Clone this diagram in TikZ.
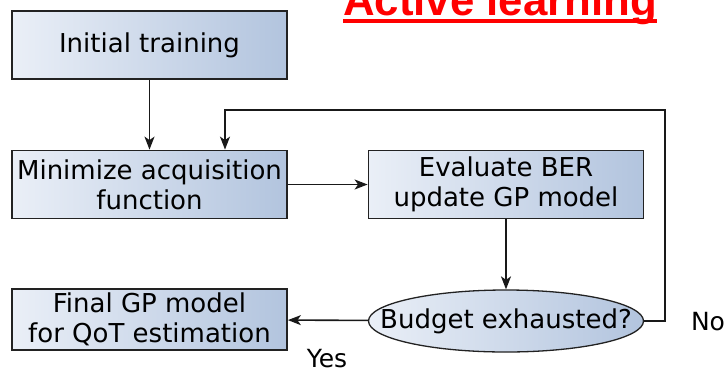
\documentclass[tikz,border=0pt]{standalone}
\usepackage{fontspec}
\setmainfont{DejaVu Sans}
\newfontfamily\titlefont{Liberation Sans}[BoldFont={* Bold}]
\usetikzlibrary{arrows.meta,shapes.geometric}

\definecolor{boxleft}{HTML}{EAEFF7}
\definecolor{boxright}{HTML}{B2C4DE}
\definecolor{boxedge}{HTML}{222222}

\tikzset{
  stepbox/.style={draw=boxedge, line width=1.8pt, rectangle,
    left color=boxleft, right color=boxright,
    minimum width=275pt, minimum height=68pt, inner sep=0pt,
    align=center, font=\fontsize{26}{30}\selectfont},
  decision/.style={draw=boxedge, line width=1.3pt, ellipse,
    left color=boxleft, right color=boxright,
    minimum width=275pt, minimum height=62pt, inner sep=0pt,
    font=\fontsize{26}{30}\selectfont},
  flow/.style={line width=1.6pt, draw=black!90,
    -{Stealth[length=13pt,width=10pt,inset=3.5pt]}},
  lbl/.style={font=\fontsize{25}{30}\selectfont, inner sep=0pt}
}

\begin{document}
\begin{tikzpicture}[x=1pt,y=-1pt]
  \useasboundingbox (0,0) rectangle (726,373);

  % heading
  \node[anchor=base west, inner sep=0pt, text=red,
        font=\titlefont\bfseries\fontsize{43.8}{50}\selectfont]
        (title) at (343,15) {Active learning};
  \draw[red, line width=3.5pt] (title.base west |- 0,21) -- (title.base east |- 0,21);

  % process steps
  \node[stepbox] (init)  at (149.5,45)   {Initial training};
  \node[stepbox] (minim) at (149.5,184.5) {Minimize acquisition\\function};
  \node[stepbox] (eval)  at (506,184.5)   {Evaluate BER\\update GP model};
  \node[stepbox, minimum height=61pt] (final) at (149.5,319.5)
        {Final GP model\\for QoT estimation};
  \node[decision] (budget) at (506,321) {\makebox[0pt]{Budget exhausted?}};

  % loop-back route
  \coordinate (loopr) at (665,110);
  \coordinate (loopl) at (225,110);

  % connectors
  \draw[flow] (init) -- (minim);
  \draw[flow] (minim) -- (eval);
  \draw[flow] (eval) -- (budget);
  \draw[flow] (budget) -- (final);
  \draw[flow] (budget.east) -| (loopr) -- (loopl) -- (loopl |- minim.north);

  % branch labels
  \node[lbl] (no)  at (708,322) {No};
  \node[lbl] (yes) at (327,359) {Yes};
\end{tikzpicture}
\end{document}
